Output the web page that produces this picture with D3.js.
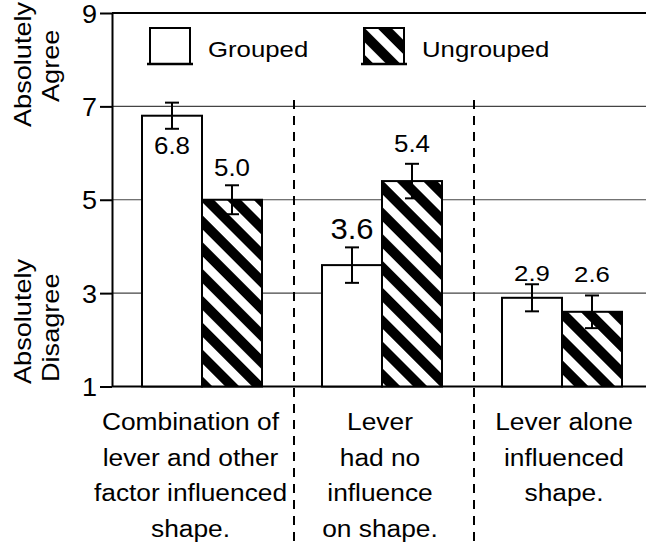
<!DOCTYPE html>
<html><head><meta charset="utf-8">
<script src="https://cdn.jsdelivr.net/npm/d3@7"></script>
<style>
body{margin:0;background:#fff}
svg{display:block}
text{font-family:"Liberation Sans",Arial,Helvetica,sans-serif;fill:#000}
</style>
</head><body>
<svg id="c" width="646" height="544"></svg>
<script>
// ---------- data ----------
const categories = ["Combination of lever and other factor influenced shape.", "Lever had no influence on shape.", "Lever alone influenced shape."];
const categoryLines = [["Combination of", "lever and other", "factor influenced", "shape."], ["Lever", "had no", "influence", "on shape."], ["Lever alone", "influenced", "shape."]];
const series = ["Grouped", "Ungrouped"];
const groupedValues = [6.8, 3.6, 2.9];
const ungroupedValues = [5.0, 5.4, 2.6];
const groupedErrors = [0.28, 0.38, 0.29];
const ungroupedErrors = [0.31, 0.37, 0.35];
const yTicks = [1, 3, 5, 7, 9];
const gridTicks = [3, 5, 7];
const yTitleTop = ["Absolutely", "Agree"];
const yTitleBottom = ["Absolutely", "Disagree"];

// ---------- styling (not data) ----------
const W = 646, H = 544;
const plotLeft = 112, plotRight = 652, plotTop = 13, plotBottom = 386.5;
// value-label placement: [gap above error top (negative => below error bottom), font size, x-stretch]
const labelStyle = {
  "Grouped":   [[-25, 24, 1.08], [8, 29, 1.07], [3, 23, 1.12]],
  "Ungrouped": [[9, 24, 1.08], [11.5, 24, 1.08], [13.5, 23, 1.12]]
};
const catShift = [-11.5, -2, 2];

const svg = d3.select("#c");
const defs = svg.append("defs");
const pat = defs.append("pattern").attr("id", "hatch")
  .attr("patternUnits", "userSpaceOnUse")
  .attr("width", 19).attr("height", 19)
  .attr("patternTransform", "rotate(-45)");
pat.append("rect").attr("width", 19).attr("height", 19).attr("fill", "#fff");
pat.append("rect").attr("width", 10).attr("height", 19).attr("fill", "#000");

const x = d3.scaleBand().domain(categories).range([plotLeft, plotRight]).paddingInner(0).paddingOuter(0);
const x1 = d3.scaleBand().domain(series).range([0, x.bandwidth()]).paddingInner(0).paddingOuter(0.5);
const y = d3.scaleLinear().domain([1, 9]).range([plotBottom, plotTop]);

const rows = [];
categories.forEach((c, i) => {
  rows.push({cat: c, i, s: "Grouped", v: groupedValues[i], e: groupedErrors[i]});
  rows.push({cat: c, i, s: "Ungrouped", v: ungroupedValues[i], e: ungroupedErrors[i]});
});

// gridlines
svg.append("g").selectAll("line").data(gridTicks).join("line")
  .attr("x1", plotLeft).attr("x2", W)
  .attr("y1", d => y(d)).attr("y2", d => y(d))
  .attr("stroke", "#444").attr("stroke-width", 1.2);

// top and bottom frame lines
svg.append("g").selectAll("line").data([1, 9]).join("line")
  .attr("x1", plotLeft).attr("x2", W)
  .attr("y1", d => y(d)).attr("y2", d => y(d))
  .attr("stroke", "#000").attr("stroke-width", 2);

// dashed separators
svg.append("g").selectAll("line").data(categories.slice(1)).join("line")
  .attr("x1", d => x(d) + 2).attr("x2", d => x(d) + 2)
  .attr("y1", 100).attr("y2", H)
  .attr("stroke", "#000").attr("stroke-width", 2)
  .attr("stroke-dasharray", "9,7");

// bars
svg.append("g").selectAll("rect").data(rows).join("rect")
  .attr("x", d => x(d.cat) + x1(d.s))
  .attr("width", x1.bandwidth())
  .attr("y", d => y(d.v))
  .attr("height", d => y(1) - y(d.v))
  .attr("fill", d => d.s === "Grouped" ? "#fff" : "url(#hatch)")
  .attr("stroke", "#000").attr("stroke-width", 2);

// error bars
const eb = svg.append("g").attr("stroke", "#000").attr("stroke-width", 2);
rows.forEach(d => {
  const cx = x(d.cat) + x1(d.s) + x1.bandwidth() / 2;
  eb.append("line").attr("x1", cx).attr("x2", cx).attr("y1", y(d.v + d.e)).attr("y2", y(d.v - d.e));
  eb.append("line").attr("x1", cx - 7).attr("x2", cx + 7).attr("y1", y(d.v + d.e)).attr("y2", y(d.v + d.e));
  eb.append("line").attr("x1", cx - 7).attr("x2", cx + 7).attr("y1", y(d.v - d.e)).attr("y2", y(d.v - d.e));
});

// value labels
const fmt = d3.format(".1f");
svg.append("g").selectAll("text").data(rows).join("text")
  .attr("text-anchor", "middle")
  .attr("font-size", d => labelStyle[d.s][d.i][1])
  .attr("transform", d => {
    const st = labelStyle[d.s][d.i];
    const cx = x(d.cat) + x1(d.s) + x1.bandwidth() / 2;
    const yy = st[0] < 0 ? y(d.v - d.e) - st[0] : y(d.v + d.e) - st[0];
    return `translate(${cx},${yy}) scale(${st[2]},1)`;
  })
  .text(d => fmt(d.v));

// y axis
const yAxis = d3.axisLeft(y).tickValues(yTicks).tickSize(12).tickSizeOuter(0).tickPadding(0).tickFormat(d3.format("d"));
const ag = svg.append("g").attr("transform", `translate(${plotLeft},0)`).call(yAxis);
ag.select(".domain").attr("stroke", "#000").attr("stroke-width", 2);
ag.selectAll(".tick line").attr("stroke", "#000").attr("stroke-width", 2);
ag.selectAll(".tick text")
  .attr("font-size", 25)
  .attr("font-family", "'Liberation Sans',Arial,sans-serif")
  .attr("fill", "#000")
  .attr("x", -13.9).attr("dy", "0.36em")
  .attr("transform", "scale(1.08,1)");

// y titles
function yTitle(lines, bases, xs) {
  lines.forEach((t, k) => {
    svg.append("text")
      .attr("font-size", 24)
      .attr("text-anchor", "start")
      .attr("transform", `translate(${xs[k]},${bases[k]}) rotate(-90) scale(1.13,1)`)
      .text(t);
  });
}
yTitle(yTitleTop, [127, 102], [31, 59]);
yTitle(yTitleBottom, [384, 382], [31, 59]);

// category labels
categoryLines.forEach((lines, i) => {
  const cx = x(categories[i]) + x.bandwidth() / 2 + catShift[i];
  lines.forEach((t, k) => {
    svg.append("text")
      .attr("font-size", 24.5)
      .attr("text-anchor", "middle")
      .attr("transform", `translate(${cx},${430 + k * 35.6}) scale(1.075,1)`)
      .text(t);
  });
});

// legend
const legendX = [150, 364];
series.forEach((s, k) => {
  const g = svg.append("g");
  g.append("rect").attr("x", legendX[k]).attr("y", 28).attr("width", 40).attr("height", 36)
    .attr("fill", s === "Grouped" ? "#fff" : "url(#hatch)").attr("stroke", "#000").attr("stroke-width", 2);
  g.append("line").attr("x1", legendX[k] - 3).attr("x2", legendX[k] + 43).attr("y1", 64).attr("y2", 64)
    .attr("stroke", "#000").attr("stroke-width", 2.5);
  g.append("text").attr("font-size", 23)
    .attr("transform", `translate(${legendX[k] + 58},57) scale(1.12,1)`)
    .text(s);
});
</script>
</body></html>
